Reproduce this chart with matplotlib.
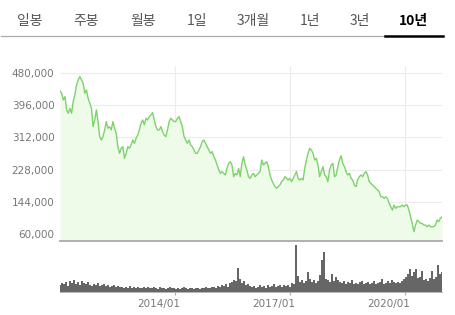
import matplotlib
matplotlib.use('Agg')
import matplotlib.pyplot as plt
import matplotlib.transforms as mtransforms
import numpy as np
import pandas as pd

# tabs
tabs = ['일봉', '주봉', '월봉', '1일', '3개월', '1년', '3년', '10년']
tab_x = [30, 86, 143, 197, 253, 310, 360, 413]

# price (won), roughly every two weeks, 2011/01 .. 2020/12
price = [433.0, 426.9, 409.5, 418.2, 383.4, 374.7, 387.8, 374.7, 405.2, 422.6,
         448.7, 461.7, 470.4, 461.7, 453.0, 426.9, 435.6, 413.9, 400.8, 387.8,
         339.9, 357.3, 383.4, 353.0, 313.8, 305.1, 313.8, 331.2, 353.0, 335.6,
         339.9, 331.2, 353.0, 335.6, 322.5, 287.7, 270.3, 283.4, 287.7, 257.3,
         270.3, 287.7, 283.4, 292.1, 305.1, 296.4, 309.5, 318.2, 331.2, 348.6,
         357.3, 344.3, 361.7, 357.3, 366.0, 370.4, 376.4, 357.3, 339.9, 331.2,
         331.2, 339.9, 326.9, 318.2, 313.8, 331.2, 353.0, 361.7, 357.3, 353.0,
         353.0, 361.7, 366.0, 353.0, 339.9, 313.8, 305.1, 296.4, 305.1, 292.1,
         287.7, 279.0, 270.3, 270.3, 279.0, 287.7, 300.8, 305.1, 296.4, 287.7,
         279.0, 270.3, 274.7, 261.6, 252.9, 239.9, 226.8, 218.1, 222.5, 218.1,
         213.8, 231.2, 244.2, 248.6, 239.9,
         209.4, 218.1, 213.8, 231.2, 209.4, 244.2, 261.6, 239.9, 226.8, 209.4,
         205.1, 213.8, 218.1, 209.4, 213.8, 218.1, 222.5, 252.9, 239.9, 244.2,
         248.6, 235.5, 213.8, 200.7, 192.0, 183.3, 179.0, 183.3, 187.7, 196.4,
         200.7, 209.4, 205.1, 200.7, 205.1, 196.4, 205.1, 213.8, 222.5, 205.1,
         200.7, 205.1, 200.7, 231.2, 252.9, 270.3, 283.4, 279.0, 270.3, 252.9,
         257.3, 239.9, 209.4, 222.5, 235.5, 213.8, 209.4, 196.4, 226.8, 239.9,
         244.2, 209.4, 213.8, 235.5, 252.9, 264.2, 244.2, 235.5, 222.5, 213.8,
         218.1, 205.1, 200.7, 187.7, 183.3, 200.7, 209.4, 213.8, 209.4, 218.1,
         222.5, 213.8, 196.4, 192.0, 187.7, 183.3, 179.0, 174.6, 170.3, 157.2,
         157.2, 152.9, 157.2, 152.9, 139.8, 131.1, 122.4, 135.5, 126.8, 131.1,
         131.1, 131.1, 135.5, 131.1, 135.5, 135.5, 122.4, 105.0, 87.6, 65.9,
         83.3, 96.3, 92.0, 87.6, 87.6, 83.3, 83.3, 79.0, 83.3, 79.0,
         79.0, 79.0, 83.3, 96.3, 92.0, 100.7, 105.0]
price = [p * 1000 for p in price]

# volume (relative units)
volume = [70, 90, 80, 100, 60, 110, 90, 120, 80, 100, 70, 110, 90, 80, 100, 70,
          60, 80, 70, 90, 60, 70, 80, 60, 70, 50, 60, 70, 50, 60, 55,
          50, 40, 55, 45, 60, 40, 50, 45, 55, 40, 45, 50, 40, 55, 45, 40, 50, 45,
          35, 50, 40, 45, 35, 40, 50, 40, 45, 35,
          40, 35, 45, 55, 40, 35, 45, 40, 35, 45, 40, 35, 45, 40, 50, 40, 45, 55,
          50, 45, 60, 55,
          70, 60, 80, 55, 90, 100, 120, 110, 240, 130, 90, 110, 70, 80, 60,
          50, 60, 45, 55, 70, 50, 60, 45, 70, 55, 60, 80, 50, 65, 70, 55, 75, 60,
          70, 55, 90, 80,
          470, 160, 100, 120, 90, 110, 200, 130, 100, 120, 90, 110, 170, 320, 400,
          130, 120, 100, 180, 110, 150, 120, 100,
          90, 110, 80, 100, 90, 120, 80, 95, 85, 100, 110, 80, 90, 105, 85, 95,
          110, 80, 90, 100, 130, 85, 95, 110, 90, 120, 100, 90, 105, 95,
          110, 130, 150, 180, 230, 160, 200, 230, 140, 150, 210, 120, 130, 110,
          140, 210, 130, 150, 270, 180, 200]

date_ticks = ['2014-01-01', '2017-01-01', '2020-01-01']
date_labels = ['2014/01', '2017/01', '2020/01']
y_ticks = [60000, 144000, 228000, 312000, 396000, 480000]

p_dates = pd.date_range('2011-01-03', '2020-12-15', periods=len(price))
v_dates = pd.date_range('2011-01-03', '2020-12-15', periods=len(volume))

W, H = 455, 315
fig = plt.figure(figsize=(W / 100, H / 100), dpi=100)

# tab bar
for name, x in zip(tabs, tab_x):
    sel = name == '10년'
    fig.text(x / W, 1 - 21 / H, name, ha='center', va='center', fontsize=10,
             family=['Noto Sans CJK KR', 'DejaVu Sans'],
             color='#000000' if sel else '#555555',
             weight='bold' if sel else 'normal')
fig.add_artist(plt.Line2D([1 / W, 385 / W], [1 - 36 / H] * 2, color='#aaaaaa', lw=0.9))
fig.add_artist(plt.Line2D([385 / W, 443 / W], [1 - 35.5 / H] * 2, color='#000000', lw=1.8))

# price chart
L, R = 60, 442
top, bot = 66, 240.7
ax = fig.add_axes([L / W, 1 - bot / H, (R - L) / W, (bot - top) / H])
ax.fill_between(p_dates, price, 0, color='#effbe9', lw=0)
ax.plot(p_dates, price, color='#7cd36b', lw=1.0)
ax.set_ylim(42500, 498000)
ax.set_xlim(p_dates[0], p_dates[-1])
ax.set_yticks(y_ticks)
ax.set_yticklabels(['{:,}'.format(v) for v in y_ticks])
ax.set_xticks(pd.to_datetime(date_ticks))
ax.set_xticklabels([])
ax.grid(True, color='#ececec', lw=0.8)
ax.set_axisbelow(True)
ax.tick_params(axis='y', length=0, pad=4, labelsize=7.5, labelcolor='#777777')
ax.tick_params(axis='x', length=0)
for s in ['top', 'right', 'left']:
    ax.spines[s].set_visible(False)
ax.spines['bottom'].set_color('#aaaaaa')
ax.spines['bottom'].set_linewidth(1.3)

# volume chart
vtop, vbot = 243, 292
vax = fig.add_axes([L / W, 1 - vbot / H, (R - L) / W, (vbot - vtop) / H])
vax.bar(v_dates, volume, width=16, color='#666666', lw=0)
vax.set_xlim(p_dates[0], p_dates[-1])
vax.set_ylim(0, 490)
vax.set_yticks([])
vax.set_xticks(pd.to_datetime(date_ticks))
vax.set_xticklabels(date_labels)
vax.tick_params(axis='x', length=2, color='#aaaaaa', labelsize=7.5,
                labelcolor='#777777', pad=3)
shift = mtransforms.ScaledTranslation(5 / 100, 0, fig.dpi_scale_trans)
for lab in vax.get_xticklabels():
    lab.set_ha('right')
    lab.set_transform(lab.get_transform() + shift)
for s in ['top', 'right', 'left']:
    vax.spines[s].set_visible(False)
vax.spines['bottom'].set_color('#aaaaaa')
vax.spines['bottom'].set_linewidth(0.6)

fig.savefig('out.png', dpi=100)
